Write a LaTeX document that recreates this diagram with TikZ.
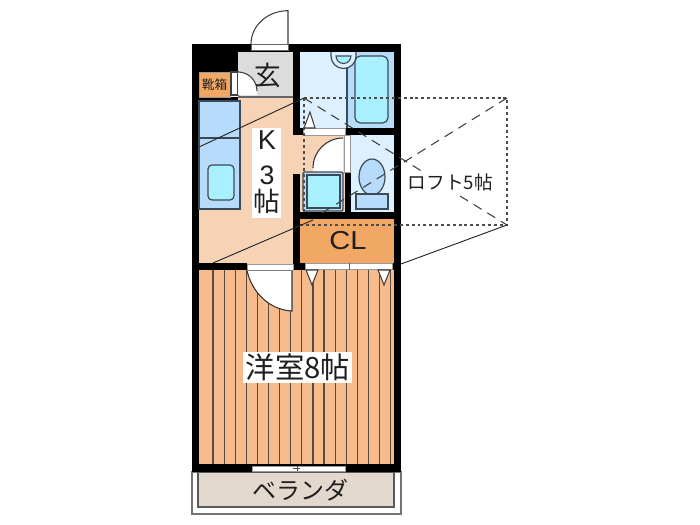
\documentclass[tikz,border=0pt]{standalone}
\usepackage{fontspec}
\setmainfont{Noto Sans CJK JP}
\newfontfamily\latinface{Liberation Sans}
\definecolor{peach}{HTML}{F6D3B5}
\definecolor{room}{HTML}{F8BC8C}
\definecolor{stripe}{HTML}{5A4A40}
\definecolor{clc}{HTML}{F2A865}
\definecolor{gen}{HTML}{DCDCDC}
\definecolor{bathc}{HTML}{DCF0FF}
\definecolor{tubout}{HTML}{B7DCFB}
\definecolor{tubin}{HTML}{A9F0FF}
\definecolor{linec}{HTML}{3C4A55}
\definecolor{bal}{HTML}{E3D8CE}
\tikzset{
 x=0.75pt,y=-0.75pt,
 wall/.style={fill=black,draw=none},
 white box/.style={fill=white,draw=none,inner sep=0pt},
 dot line/.style={draw=black!70,line width=0.8pt,dash pattern=on 2.2pt off 2.2pt},
 dash line/.style={draw=black!75,line width=0.8pt,dash pattern=on 7pt off 5pt},
 thin solid/.style={draw=black!85,line width=0.7pt},
 fixture/.style={draw=linec,line width=0.9pt},
 door/.style={fill=white,draw=black!75,line width=0.8pt},
 sill/.style={fill=white,draw=black!40,line width=0.4pt},
 label/.style={inner sep=0pt,text=black!88}
}
\begin{document}
\begin{tikzpicture}
\useasboundingbox (0,0) rectangle (700,525);
% floors
\fill[peach] (199,97) rectangle (293,264);
\fill[gen] (238,52) rectangle (293,97);
\fill[bathc] (300,52) rectangle (394,128);
\fill[bathc] (351,135) rectangle (394,212);
\fill[peach] (293,135) rectangle (345,212);
\fill[clc] (300,219) rectangle (394,263);
\fill[room] (199,270) rectangle (394,464);
\foreach \k in {0,...,16} \draw[stripe,line width=0.9pt] ({213+11.1*\k},270) -- ({213+11.1*\k},464);
% balcony
\draw[draw=black!55,line width=0.9pt,fill=white] (192,472) rectangle (401,514);
\draw[draw=black!65,line width=0.8pt,fill=bal] (198,472) rectangle (394,507);
% walls
\fill[wall] (192,44) rectangle (401,52);
\fill[wall] (192,44) rectangle (238,72);
\fill[wall] (192,44) rectangle (199,472);
\fill[wall] (199,97) rectangle (238,101);
\fill[wall] (394,44) rectangle (401,472);
\fill[wall] (293,44) rectangle (300,128);
\fill[wall] (293,128) rectangle (303,135);
\fill[wall] (345,128) rectangle (401,135);
\fill[wall] (345,172) rectangle (351,212);
\fill[wall] (293,174) rectangle (300,270);
\fill[wall] (293,212) rectangle (401,219);
\fill[wall] (199,263) rectangle (247,270);
\fill[wall] (293,263) rectangle (305,270);
\fill[wall] (392,263) rectangle (401,270);
\fill[wall] (192,464) rectangle (401,472);
% shoe box
\node[draw=black!40,fill=clc,minimum width=23.25pt,minimum height=18.75pt,inner sep=0pt] (shoe) at (214.5,84.5) {};
\node[label,font=\fontsize{9.5}{10}\selectfont] (shoetxt) at (214.5,84.5) {靴箱};
\draw[door] (231,72) rectangle (238,95);
\fill[white] (238,72) arc[start angle=90,end angle=0,radius=14.25pt] -- (257,95) -- (238,95) -- cycle;
\draw[black!75,line width=0.8pt] (238,72) arc[start angle=90,end angle=0,radius=14.25pt];
\draw[black!60,line width=0.8pt] (238,97) -- (293,97);
% entrance door
\fill[white] (251,44) rectangle (288,50);
\draw[door] (251,44) arc[start angle=180,end angle=90,x radius=27.75pt,y radius=25pt] -- (288,44);
\draw[black!60,line width=0.5pt] (251,44) rectangle (288,50);
% kitchen counter
\draw[fixture,fill=tubout] (199,101) rectangle (240,209);
\draw[fixture] (199,138) -- (240,138);
\draw[fixture,fill=tubin,rounded corners=3pt] (208,165) rectangle (234,200);
% bath
\fill[tubout] (347,52) rectangle (394,128);
\draw[fixture,line width=1.1pt] (347,68) -- (347,128);
\draw[fixture,fill=bathc] (331,52) -- (331,56) arc[start angle=180,end angle=360,radius=9.4pt] -- (356,52);
\draw[fixture,line width=0.8pt,fill=tubin] (336,56) arc[start angle=180,end angle=360,radius=5.6pt] -- cycle;
\draw[fixture,fill=tubin,rounded corners=4pt] (355,56) rectangle (388,123);
\draw[sill] (303,128) rectangle (345,135);
\draw[door] (304,128) -- (310,112) -- (315,128) -- cycle;
% toilet door and fixture
\path[fill=white] (343,138) arc[start angle=90,end angle=180,radius=22.5pt] -- (313,172) -- (343,172) -- cycle;
\draw[black!80,line width=0.8pt] (343,138) arc[start angle=90,end angle=180,radius=22.5pt];
\draw[sill] (344,135) rectangle (350,172);
\draw[fixture,fill=tubout] (372,177) ellipse[x radius=13,y radius=18];
\draw[fixture,fill=tubout] (356,194) rectangle (388,209);
% washer
\draw[fixture,fill=tubout,rounded corners=1pt] (303,172) rectangle (343,211);
\draw[fixture,fill=tubin] (307,175) rectangle (340,208);
% CL sill and triangles
\draw[sill] (305,263.5) rectangle (392,269);
\draw[black!60,line width=0.6pt] (349,263) -- (349,270);
\draw[sill] (247,264) rectangle (293,270);
\draw[door] (306,270) -- (312,285) -- (318,270) -- cycle;
\draw[door] (378,270) -- (384,285) -- (390,270) -- cycle;
% room door
\fill[white] (247,270.5) .. controls (252,293) and (270,310) .. (292,311) -- (292,270.5) -- cycle;
\draw[black!80,line width=0.8pt] (247,270.5) .. controls (252,293) and (270,310) .. (292,311) -- (292,270);
\draw[black!50,line width=0.6pt] (247,270) -- (293,270);
% window
\draw[sill] (252,466.5) rectangle (345,471);
\draw[black!70,line width=0.5pt] (297,466) -- (297,471);
\draw[black!70,line width=0.5pt] (293,468) -- (300,468);
% loft
\coordinate (la) at (304,98);
\coordinate (lb) at (507,98);
\coordinate (lc) at (507,225);
\coordinate (ld) at (300,225);
\coordinate (le) at (304,212);
\coordinate (lf) at (401,264);
\coordinate (lg) at (199,147);
\coordinate (lh) at (213,263);
\coordinate (li) at (313,220);
\coordinate (lj) at (322,213);
\coordinate (lm) at (423,172);
\coordinate (ln) at (460,196);
\draw[dot line] (la) -- (lb) -- (lc) -- (ld);
\draw[dot line] (la) -- (le);
\draw[dash line] (la) -- (lm);
\draw[dash line] (ln) -- (lc);
\draw[dash line] (lb) -- (lj);
\draw[thin solid] (lg) -- (la);
\draw[thin solid] (lh) -- (li);
\draw[thin solid] (lf) -- (lc);
% labels
\node[white box,minimum width=21.75pt,minimum height=67.5pt] (kbg) at (266.5,173) {};
\node[label,font=\latinface\fontsize{20.5}{24}\selectfont] (k1) at (267,140) {K};
\node[label,font=\latinface\fontsize{20}{24}\selectfont] (k2) at (267,175) {3};
\node[label,font=\fontsize{20}{24}\selectfont] (k3) at (266.5,201.5) {帖};
\node[label,font=\fontsize{20}{24}\selectfont] (gentxt) at (267.5,75.5) {玄};
\node[label,font=\fontsize{14}{16}\selectfont] (loft) at (450.5,182) {ロフト5帖};
\node[label,font=\latinface\fontsize{19.5}{24}\selectfont,xscale=1.12,transform shape] (cl) at (348,241) {CL};
\node[white box,minimum width=81.75pt,minimum height=23pt] (rbg) at (297.5,367.5) {};
\node[label,font=\fontsize{22}{26}\selectfont] (rm) at (298,367) {洋室8帖};
\node[label,font=\fontsize{18}{20}\selectfont] (ver) at (300,490) {ベランダ};
\end{tikzpicture}
\end{document}
